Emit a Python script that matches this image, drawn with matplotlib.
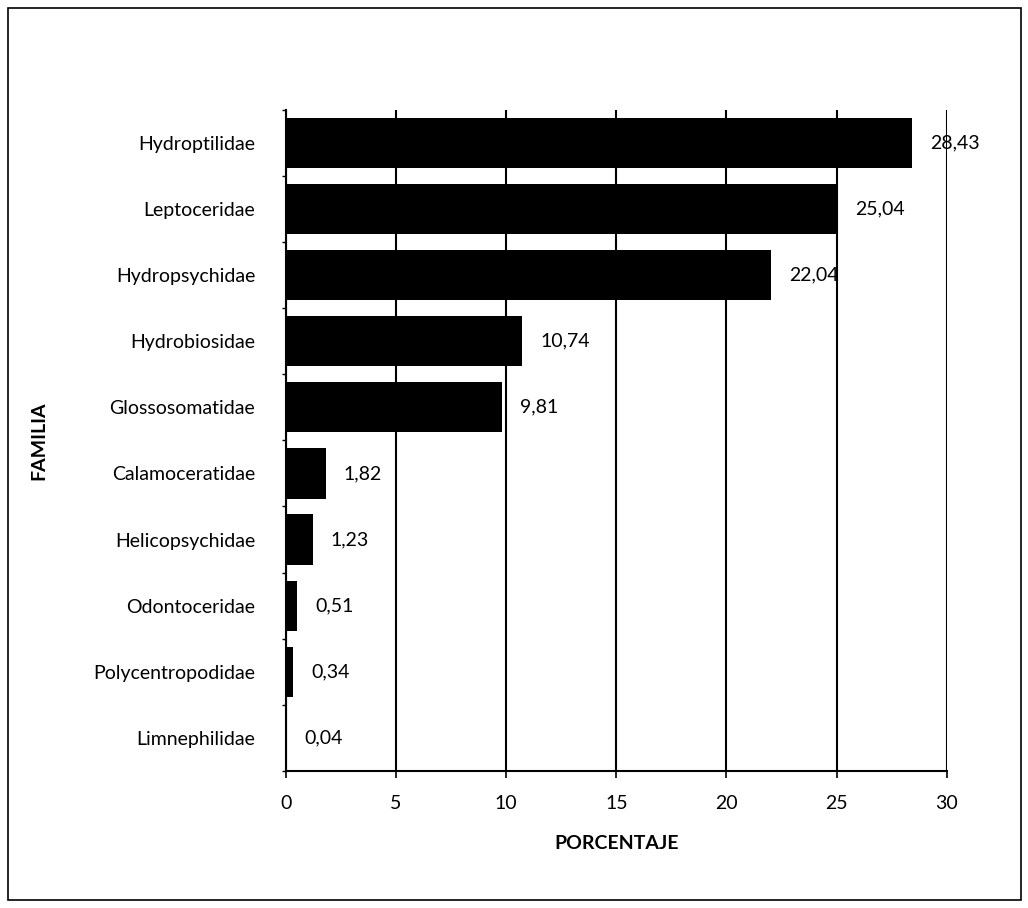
import matplotlib.pyplot as plt
import numpy as np
from matplotlib.patches import Rectangle

plt.rcParams['font.family'] = ['Lato', 'DejaVu Sans']

familias = ['Hydroptilidae', 'Leptoceridae', 'Hydropsychidae', 'Hydrobiosidae',
            'Glossosomatidae', 'Calamoceratidae', 'Helicopsychidae', 'Odontoceridae',
            'Polycentropodidae', 'Limnephilidae']
porcentaje = [28.43, 25.04, 22.04, 10.74, 9.81, 1.82, 1.23, 0.51, 0.34, 0.04]
etiquetas = ['28,43', '25,04', '22,04', '10,74', '9,81', '1,82', '1,23', '0,51', '0,34', '0,04']

fig = plt.figure(figsize=(10.28, 9.08), dpi=100)
ax = fig.add_axes([0.278, 0.151, 0.643, 0.728])

y = np.arange(len(familias))
ax.barh(y, porcentaje, height=0.76, color='black', zorder=3)

# etiquetas de valor a la derecha de cada barra
for yi, v, t in zip(y, porcentaje, etiquetas):
    ax.annotate(t, (v, yi), xytext=(13, 0), textcoords='offset points',
                va='center', ha='left', fontsize=14, zorder=4)

ax.set_xlim(0, 30)
ax.set_ylim(len(familias) - 0.5, -0.5)
ax.set_xticks(np.arange(0, 31, 5))
ax.set_yticks(y)
ax.set_yticklabels(familias, fontsize=14)
ax.set_yticks(np.arange(-0.5, len(familias), 1), minor=True)
ax.tick_params(axis='x', labelsize=14, length=5, width=1.2, pad=12)
ax.tick_params(axis='y', which='major', length=0, pad=22)
ax.tick_params(axis='y', which='minor', length=3, width=1)

ax.grid(axis='x', color='black', linewidth=1.5, zorder=1)
for s in ['top', 'right']:
    ax.spines[s].set_visible(False)
for s in ['left', 'bottom']:
    ax.spines[s].set_linewidth(1.5)

ax.set_xlabel('PORCENTAJE', fontsize=14, fontweight='bold', labelpad=17)
ax.set_ylabel('FAMILIA', fontsize=14, fontweight='bold')
ax.yaxis.set_label_coords(-0.36, 0.5)

# marco exterior
fig.patches.append(Rectangle((0.008, 0.009), 0.985, 0.982, transform=fig.transFigure,
                             fill=False, edgecolor='black', linewidth=1.2))

fig.savefig('out.png', dpi=100)
